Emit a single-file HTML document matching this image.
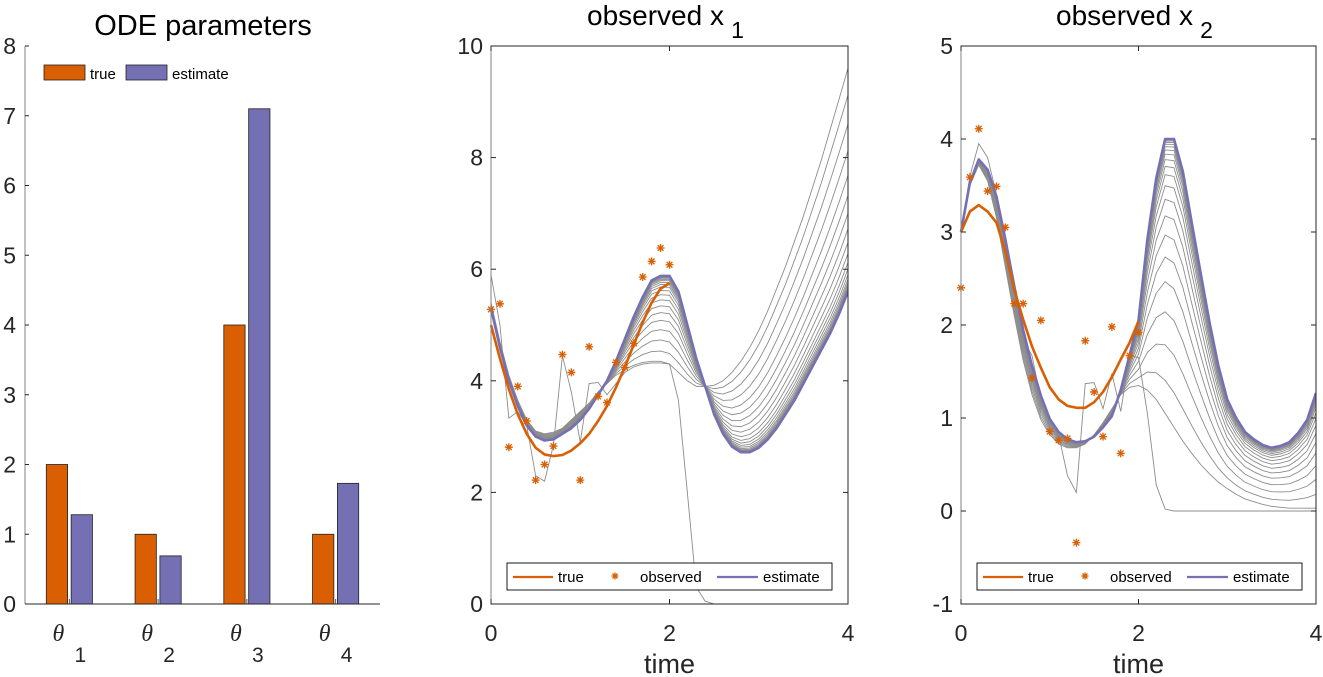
<!DOCTYPE html>
<html><head><meta charset="utf-8">
<style>
html,body{margin:0;padding:0;background:#fff;}
svg{display:block;font-family:"Liberation Sans",sans-serif;}
</style></head>
<body>
<svg id="fig" width="1323" height="677" viewBox="0 0 1323 677" xmlns="http://www.w3.org/2000/svg"></svg>
<script>
// ---------- data ----------
const paramLabels = ["1","2","3","4"];
const paramTrue = [2, 1, 4, 1];
const paramEst = [1.28, 0.69, 7.1, 1.73];
const p1Ticks = [0,1,2,3,4,5,6,7,8];

const obsTime = [0,0.1,0.2,0.3,0.4,0.5,0.6,0.7,0.8,0.9,1.0,1.1,1.2,1.3,1.4,1.5,1.6,1.7,1.8,1.9,2.0];
const obsX1 = [5.28,5.38,2.81,3.9,3.28,2.22,2.5,2.83,4.47,4.15,2.22,4.61,3.72,3.61,4.33,4.24,4.67,5.86,6.14,6.38,6.08];
const trueX1 = [5.0,4.4,3.85,3.4,3.05,2.8,2.68,2.65,2.67,2.75,2.88,3.05,3.28,3.55,3.88,4.25,4.65,5.05,5.4,5.65,5.75];
const obsX2 = [2.40,3.59,4.11,3.44,3.49,3.05,2.23,2.23,1.43,2.05,0.855,0.76,0.78,-0.34,1.83,1.28,0.80,1.98,0.62,1.67,1.92];
const trueX2 = [3.0,3.22,3.29,3.22,3.1,2.79,2.38,2.06,1.77,1.54,1.33,1.2,1.13,1.11,1.11,1.17,1.28,1.44,1.63,1.81,2.04];

const estTime = [0,0.1,0.2,0.3,0.4,0.5,0.6,0.7,0.8,0.9,1.0,1.1,1.2,1.3,1.4,1.5,1.6,1.7,1.8,1.9,2.0,2.1,2.2,2.3,2.4,2.5,2.6,2.7,2.8,2.9,3.0,3.1,3.2,3.3,3.4,3.5,3.6,3.7,3.8,3.9,4.0];
const estX1 = [5.3,4.6,4.0,3.55,3.2,3.0,2.93,2.95,3.05,3.15,3.3,3.5,3.75,4.0,4.35,4.75,5.15,5.5,5.8,5.88,5.88,5.6,5.0,4.4,3.9,3.4,3.05,2.82,2.72,2.72,2.8,2.95,3.15,3.4,3.65,3.95,4.25,4.55,4.85,5.2,5.6];
const estX2 = [3.0,3.53,3.78,3.67,3.38,2.92,2.42,1.95,1.56,1.24,0.99,0.85,0.77,0.74,0.75,0.8,0.9,1.02,1.3,1.68,2.05,2.92,3.58,4.0,4.0,3.65,3.1,2.56,2.03,1.56,1.2,1.0,0.85,0.77,0.71,0.68,0.7,0.74,0.84,0.98,1.27];
// first optimisation iterate (grey)
const iterStartX1 = [5.4,4.7,4.1,3.65,3.3,3.1,3.05,3.08,3.15,3.3,3.45,3.6,3.8,3.95,4.1,4.2,4.28,4.33,4.35,4.35,4.3,4.15,4.0,3.9,3.9,3.92,4.0,4.15,4.35,4.6,4.9,5.25,5.65,6.05,6.5,6.95,7.45,7.95,8.5,9.05,9.6];
const iterStartX2 = [3.0,3.5,3.72,3.55,3.15,2.62,2.1,1.62,1.25,0.98,0.82,0.72,0.68,0.68,0.72,0.82,0.95,1.1,1.25,1.33,1.35,1.3,1.2,1.05,0.9,0.75,0.62,0.5,0.4,0.31,0.24,0.18,0.13,0.1,0.07,0.05,0.04,0.03,0.03,0.03,0.03];
const iterWeights = [0,0.12,0.25,0.37,0.48,0.57,0.65,0.72,0.78,0.83,0.87,0.9,0.925,0.945,0.96,0.972,0.981,0.988,0.993,0.997];
const outlierX1 = [5.9,5.0,3.33,3.45,3.2,2.3,2.2,2.85,4.45,3.8,2.9,3.95,3.97,3.75,3.95,4.15,4.25,4.3,4.32,4.32,4.3,3.65,2.0,0.3,0.05,0,0,0,0,0,0,0,0,0,0,0,0,0,0,0,0];
const outlierX2 = [3.0,3.6,3.95,3.8,3.4,2.85,2.3,1.85,1.67,1.2,0.95,0.82,0.38,0.2,1.37,1.38,1.1,1.48,1.07,1.67,1.65,1.05,0.28,0.02,0,0,0,0,0,0,0,0,0,0,0,0,0,0,0,0,0];
const timeTicks = [0,2,4];
const x1Ticks = [0,2,4,6,8,10];
const x2Ticks = [-1,0,1,2,3,4,5];

// ---------- helpers ----------
const NS = "http://www.w3.org/2000/svg";
const svg = document.getElementById('fig');
function mk(tag, attrs, parent){
  const e = document.createElementNS(NS, tag);
  for (const k in attrs) e.setAttribute(k, attrs[k]);
  (parent||svg).appendChild(e);
  return e;
}
function star(cx, cy, r, parent){
  const d = r*0.72;
  return mk('path', {d:`M${cx-r},${cy}L${cx+r},${cy}M${cx},${cy-r}L${cx},${cy+r}M${cx-d},${cy-d}L${cx+d},${cy+d}M${cx-d},${cy+d}L${cx+d},${cy-d}`,
    stroke:ORANGE, 'stroke-width':1.3, fill:'none'}, parent);
}
const ORANGE = "#d95f02", PURPLE = "#7570b3", AX = "#262626";

// ---------- panel 1: bars ----------
const p1 = {l:25, r:380, t:46, b:604, xmin:0.5, xmax:4.5, ymin:0, ymax:8};
const p1x = v => p1.l + (v - p1.xmin) / (p1.xmax - p1.xmin) * (p1.r - p1.l);
const p1y = v => p1.b - (v - p1.ymin) / (p1.ymax - p1.ymin) * (p1.b - p1.t);
const g1 = mk('g', {});


const bw = 0.24;
paramTrue.forEach((v,i) => {
  const c = i + 1;
  const r1 = mk('rect', {x:p1x(c-0.14-bw/2), y:p1y(v), width:p1x(bw)-p1x(0), height:p1y(0)-p1y(v), fill:ORANGE, stroke:"#222", 'stroke-width':0.8}, g1);
  
  
  const e = paramEst[i];
  const r2 = mk('rect', {x:p1x(c+0.14-bw/2), y:p1y(e), width:p1x(bw)-p1x(0), height:p1y(0)-p1y(e), fill:PURPLE, stroke:"#222", 'stroke-width':0.8}, g1);
  
  
  mk('line', {x1:p1x(c), x2:p1x(c), y1:p1.b, y2:p1.b-5, stroke:"#555", 'stroke-width':1}, g1);
  const tl = mk('text', {x:p1x(c)-11, y:641, 'font-size':24, 'font-family':'"Liberation Serif",serif', 'font-style':'italic', fill:AX, 'text-anchor':'middle'}, g1);
  tl.textContent = "θ";
  
  
  const ts = mk('text', {x:p1x(c)+11, y:662, 'font-size':21, fill:AX, 'text-anchor':'middle'}, g1);
  ts.textContent = paramLabels[i];
});
mk('line', {x1:p1.l, x2:p1.l, y1:p1.t, y2:p1.b, stroke:"#808080", 'stroke-width':1}, g1);
mk('line', {x1:p1.l, x2:p1.r, y1:p1.b, y2:p1.b, stroke:AX, 'stroke-width':1}, g1);
p1Ticks.forEach(v => {
  mk('line', {x1:p1.l, x2:p1.l+4, y1:p1y(v), y2:p1y(v), stroke:AX, 'stroke-width':1}, g1);
  const t = mk('text', {x:p1.l-9, y:p1y(v)+8, 'font-size':23, fill:AX, 'text-anchor':'end'}, g1);
  t.textContent = v;
});
const tt1 = mk('text', {x:203, y:35, 'font-size':29, fill:"#000", 'text-anchor':'middle'}, g1);
tt1.textContent = "ODE parameters";


const lg1 = mk('g', {}, g1);


mk('rect', {x:44, y:65, width:41, height:15, fill:ORANGE, stroke:"#222", 'stroke-width':0.8}, lg1);
const lt1 = mk('text', {x:90, y:79, 'font-size':15, fill:"#000"}, lg1); lt1.textContent = "true";
mk('rect', {x:126, y:65, width:41, height:15, fill:PURPLE, stroke:"#222", 'stroke-width':0.8}, lg1);
const lt2 = mk('text', {x:172, y:79, 'font-size':15, fill:"#000"}, lg1); lt2.textContent = "estimate";

// ---------- line panels ----------
function linePanel(cfg){
  const {l,r,t,b,ymin,ymax} = cfg;
  const X = v => l + v / 4 * (r - l);
  const Y = v => b - (v - ymin) / (ymax - ymin) * (b - t);
  const g = mk('g', {});
  
  
  const clipId = cfg.name + '-clip';
  const cp = mk('clipPath', {id:clipId}, g);
  mk('rect', {x:l-6, y:t, width:r-l+6, height:b-t}, cp);
  const plot = mk('g', {'clip-path':'url(#' + clipId + ')'}, g);
  const path = (xs, ys) => xs.map((x,i) => (i?'L':'M') + X(x).toFixed(2) + ',' + Y(ys[i]).toFixed(2)).join('');
  iterWeights.forEach((w, k) => {
    const ys = cfg.start.map((s,i) => s + (cfg.est[i] - s) * w);
    const p = mk('path', {d:path(estTime, ys), fill:'none', stroke:'#8c8c8c', 'stroke-width':0.9}, plot);
    
    
  });
  const po = mk('path', {d:path(estTime, cfg.outlier), fill:'none', stroke:'#8c8c8c', 'stroke-width':0.9}, plot);
  
  
  const pe = mk('path', {d:path(estTime, cfg.est), fill:'none', stroke:PURPLE, 'stroke-width':2.6, 'stroke-linejoin':'round'}, plot);
  
  
  const pt = mk('path', {d:path(obsTime, cfg.tru), fill:'none', stroke:ORANGE, 'stroke-width':2.6, 'stroke-linejoin':'round'}, plot);
  
  
  cfg.obs.forEach((v,i) => {
    const s = star(X(obsTime[i]), Y(v), 4, plot);
    
    
  });
  mk('rect', {x:l, y:t, width:r-l, height:b-t, fill:'none', stroke:AX, 'stroke-width':1}, g);
  mk('line', {x1:l, x2:l, y1:t, y2:b, stroke:'#808080', 'stroke-width':1}, g);
  cfg.yticks.forEach(v => {
    mk('line', {x1:l, x2:l+5, y1:Y(v), y2:Y(v), stroke:AX}, g);
    mk('line', {x1:r, x2:r-5, y1:Y(v), y2:Y(v), stroke:AX}, g);
    const tx = mk('text', {x:l-8, y:Y(v)+8, 'font-size':23, fill:AX, 'text-anchor':'end'}, g);
    tx.textContent = v;
  });
  timeTicks.forEach(v => {
    mk('line', {x1:X(v), x2:X(v), y1:b, y2:b-5, stroke:AX}, g);
    mk('line', {x1:X(v), x2:X(v), y1:t, y2:t+5, stroke:AX}, g);
    const tx = mk('text', {x:X(v), y:641, 'font-size':23, fill:AX, 'text-anchor':'middle'}, g);
    tx.textContent = v;
  });
  const xl = mk('text', {x:(l+r)/2, y:673, 'font-size':27, fill:AX, 'text-anchor':'middle'}, g);
  xl.textContent = "time";
  
  
  const ti = mk('text', {x:(l+r)/2-14, y:25, 'font-size':28, fill:'#000', 'text-anchor':'middle'}, g);
  ti.textContent = "observed x";
  
  
  const sub = mk('text', {x:(l+r)/2+68, y:38, 'font-size':23, fill:'#000', 'text-anchor':'middle'}, g);
  sub.textContent = cfg.sub;
  const lx = l + 16;
  const lg = mk('g', {}, g);
  
  
  mk('rect', {x:lx, y:563, width:325, height:27, fill:'#fff', stroke:'#000', 'stroke-width':0.9}, lg);
  mk('line', {x1:lx+6, x2:lx+46, y1:577, y2:577, stroke:ORANGE, 'stroke-width':2.2}, lg);
  const a = mk('text', {x:lx+51, y:582, 'font-size':15, fill:'#000'}, lg); a.textContent = "true";
  star(lx+108, 576, 3.5, lg);
  const bb = mk('text', {x:lx+133, y:582, 'font-size':15, fill:'#000'}, lg); bb.textContent = "observed";
  mk('line', {x1:lx+210, x2:lx+251, y1:577, y2:577, stroke:PURPLE, 'stroke-width':2.2}, lg);
  const c = mk('text', {x:lx+256, y:582, 'font-size':15, fill:'#000'}, lg); c.textContent = "estimate";
}
linePanel({name:'panel-observed-x1', l:491, r:848, t:46, b:604, ymin:0, ymax:10, yticks:x1Ticks, sub:"1",
  start:iterStartX1, est:estX1, tru:trueX1, obs:obsX1, outlier:outlierX1});
linePanel({name:'panel-observed-x2', l:961, r:1316, t:46, b:604, ymin:-1, ymax:5, yticks:x2Ticks, sub:"2",
  start:iterStartX2, est:estX2, tru:trueX2, obs:obsX2, outlier:outlierX2});
</script>
</body></html>
